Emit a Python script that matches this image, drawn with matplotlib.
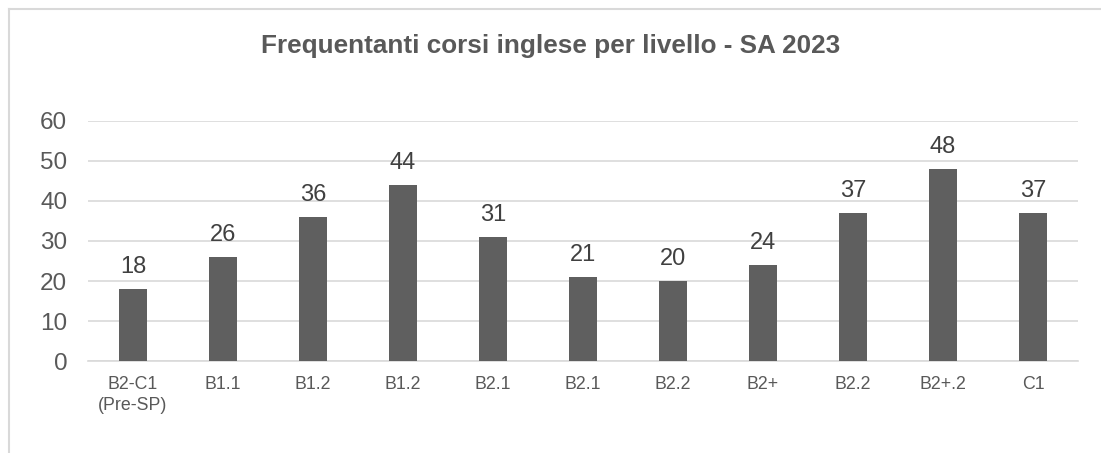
import matplotlib.pyplot as plt
from matplotlib.lines import Line2D

plt.rcParams['font.family'] = ['Liberation Sans', 'DejaVu Sans']

# data
categories = ["B2-C1\n(Pre-SP)", "B1.1", "B1.2", "B1.2", "B2.1", "B2.1",
              "B2.2", "B2+", "B2.2", "B2+.2", "C1"]
students = [18, 26, 36, 44, 31, 21, 20, 24, 37, 48, 37]
y_ticks = [0, 10, 20, 30, 40, 50, 60]

W, H = 1101, 453
fig = plt.figure(figsize=(W / 100, H / 100), dpi=100)
ax = fig.add_axes([88 / W, 1 - 361 / H, 990 / W, 240 / H])

x = list(range(len(categories)))
ax.bar(x, students, width=0.31, color='#5f5f5f', zorder=3)

# data labels above bars
for xi, v in zip(x, students):
    ax.annotate(str(v), (xi, v), xytext=(0, 8), textcoords='offset points',
                ha='center', va='bottom', fontsize=17, color='#404040')

ax.set_xlim(-0.5, len(categories) - 0.5)
ax.set_ylim(0, 60)
ax.set_yticks(y_ticks)
ax.set_xticks(x)
ax.set_xticklabels(categories, fontsize=12.8, color='#595959', linespacing=1.25)
ax.tick_params(axis='y', labelsize=17.5, labelcolor='#595959', length=0, pad=15)
ax.tick_params(axis='x', length=0, pad=11)
ax.grid(axis='y', color='#d9d9d9', linewidth=1.2, zorder=0)
for s in ['top', 'right', 'left']:
    ax.spines[s].set_visible(False)
ax.spines['bottom'].set_color('#d9d9d9')
ax.spines['bottom'].set_linewidth(1.2)

fig.text(0.5, 1 - 46 / H, "Frequentanti corsi inglese per livello - SA 2023",
         ha='center', va='center', fontsize=18.8, fontweight='bold', color='#595959')

# chart area border (top and left edges visible)
fig.add_artist(Line2D([9 / W, 9 / W], [0, 1 - 8.5 / H], transform=fig.transFigure,
                      color='#d9d9d9', linewidth=1.5))
fig.add_artist(Line2D([9 / W, 1.01], [1 - 8.5 / H, 1 - 8.5 / H], transform=fig.transFigure,
                      color='#d9d9d9', linewidth=1.5))

fig.savefig('out.png', dpi=100)
